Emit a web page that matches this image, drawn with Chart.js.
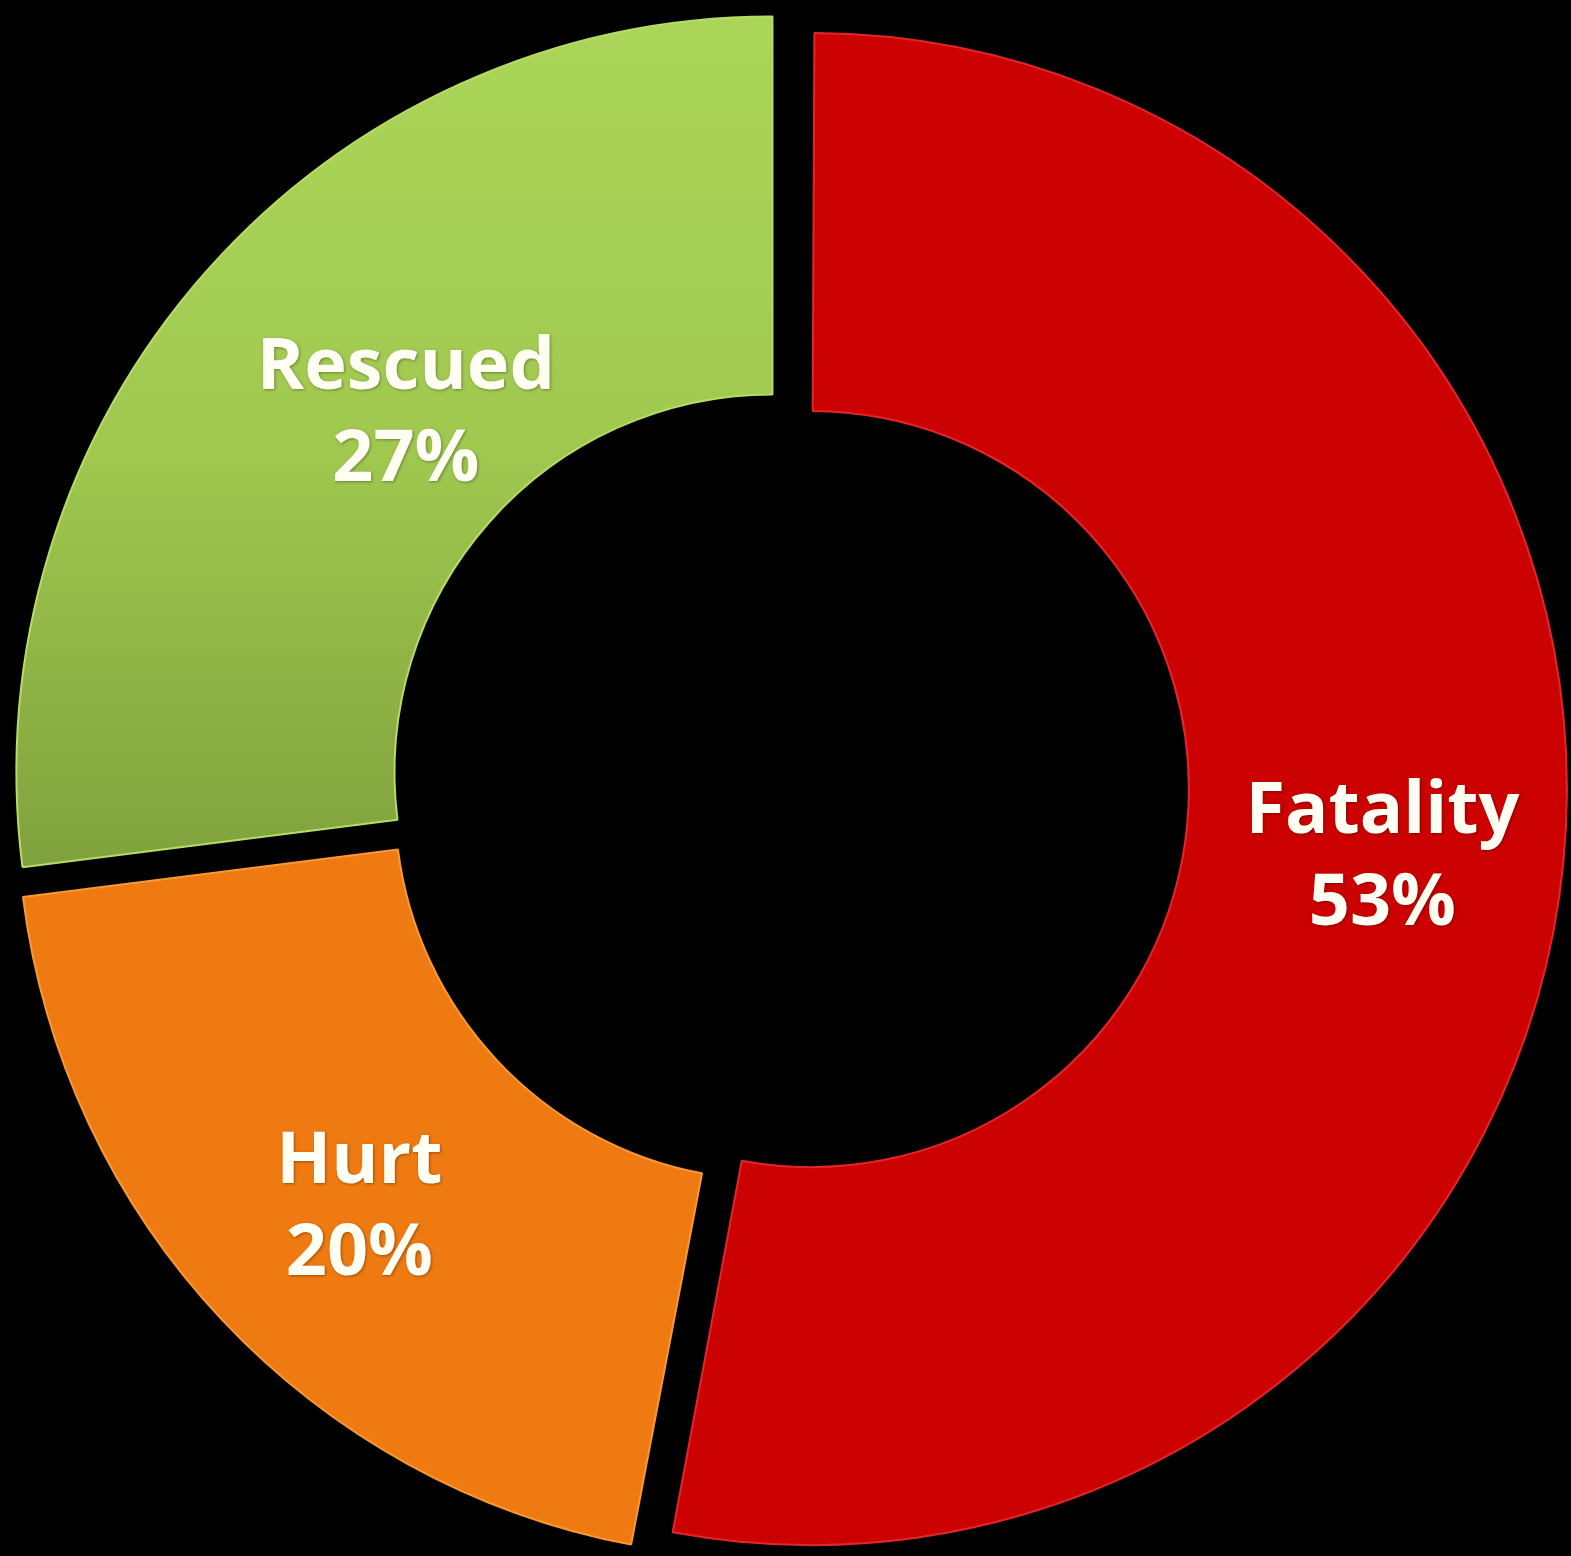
<!DOCTYPE html>
<html>
<head>
<meta charset="utf-8">
<script src="https://cdn.jsdelivr.net/npm/chart.js@4"></script>
<style>
  html, body { margin: 0; padding: 0; background: #000; }
  #wrap { width: 1571px; height: 1556px; }
</style>
</head>
<body>
<div id="wrap"><canvas id="chart" width="1571" height="1556"></canvas></div>
<script>
// outcome split, clockwise from 12 o'clock
const categories = ['Fatality', 'Hurt', 'Rescued'];
const percents = [53, 20, 27];
const sliceColors = ['#cc0202', '#f07a12', '#98c04c'];
const edgeColors = ['#e3262a', '#f79a36', '#b6dc66'];
// small nudges so labels sit where the original puts them
const labelNudgeX = [7, 15, 75];
const labelNudgeY = [16, 4, 31];

const canvas = document.getElementById('chart');

// v4 grows an exploded arc wider than a half circle by offset/4;
// take that back so every slice keeps the same ring size
const keepRing = {
  id: 'keepRing',
  afterDatasetUpdate(chart, args) {
    const meta = chart.getDatasetMeta(args.index);
    meta.data.forEach(function(arc) {
      const fix = 1 - Math.sin(Math.min(Math.PI, arc.circumference || 0));
      const grow = (arc.options.offset || 0) / 4 * fix;
      arc.outerRadius -= grow;
      arc.innerRadius -= grow;
    });
  }
};

// paints "Name / NN%" in the middle of each slice
const sliceLabels = {
  id: 'sliceLabels',
  afterDatasetsDraw(chart) {
    const ctx = chart.ctx;
    const arcs = chart.getDatasetMeta(0).data;
    ctx.save();
    ctx.fillStyle = '#fffef2';
    ctx.textAlign = 'center';
    ctx.textBaseline = 'middle';
    ctx.font = 'bold 72px "Open Sans", "Liberation Sans", sans-serif';
    ctx.shadowColor = 'rgba(0,0,0,0.35)';
    ctx.shadowBlur = 3;
    ctx.shadowOffsetX = 1;
    ctx.shadowOffsetY = 1;
    arcs.forEach(function(arc, i) {
      const p = arc.getCenterPoint();
      const x = p.x + labelNudgeX[i];
      const y = p.y + labelNudgeY[i];
      ctx.fillText(categories[i], x, y - 46);
      ctx.fillText(percents[i] + '%', x, y + 46);
    });
    ctx.restore();
  }
};

// green slice fades from bright at the top to olive at the bottom
function sliceFill(context) {
  const i = context.dataIndex;
  const area = context.chart.chartArea;
  if (i !== 2 || !area) return sliceColors[i];
  const g = context.chart.ctx.createLinearGradient(0, area.top, 0, area.top + area.height * 0.58);
  g.addColorStop(0, '#acd65a');
  g.addColorStop(0.5, '#a0c84f');
  g.addColorStop(1, '#7e9f3c');
  return g;
}

const chart = new Chart(canvas, {
  type: 'doughnut',
  data: {
    labels: categories,
    datasets: [{
      data: percents,
      backgroundColor: sliceFill,
      borderColor: edgeColors,
      borderWidth: 2,
      // v4 moves an arc by offset / 4, so 88 gives a ~22px gap
      offset: 88,
      hoverOffset: 88
    }]
  },
  options: {
    responsive: false,
    animation: false,
    radius: 756,
    cutout: '50%',
    layout: { padding: { left: 7, top: 18 } },
    plugins: {
      legend: { display: false },
      tooltip: { enabled: false }
    }
  },
  plugins: [keepRing, sliceLabels]
});
</script>
</body>
</html>
